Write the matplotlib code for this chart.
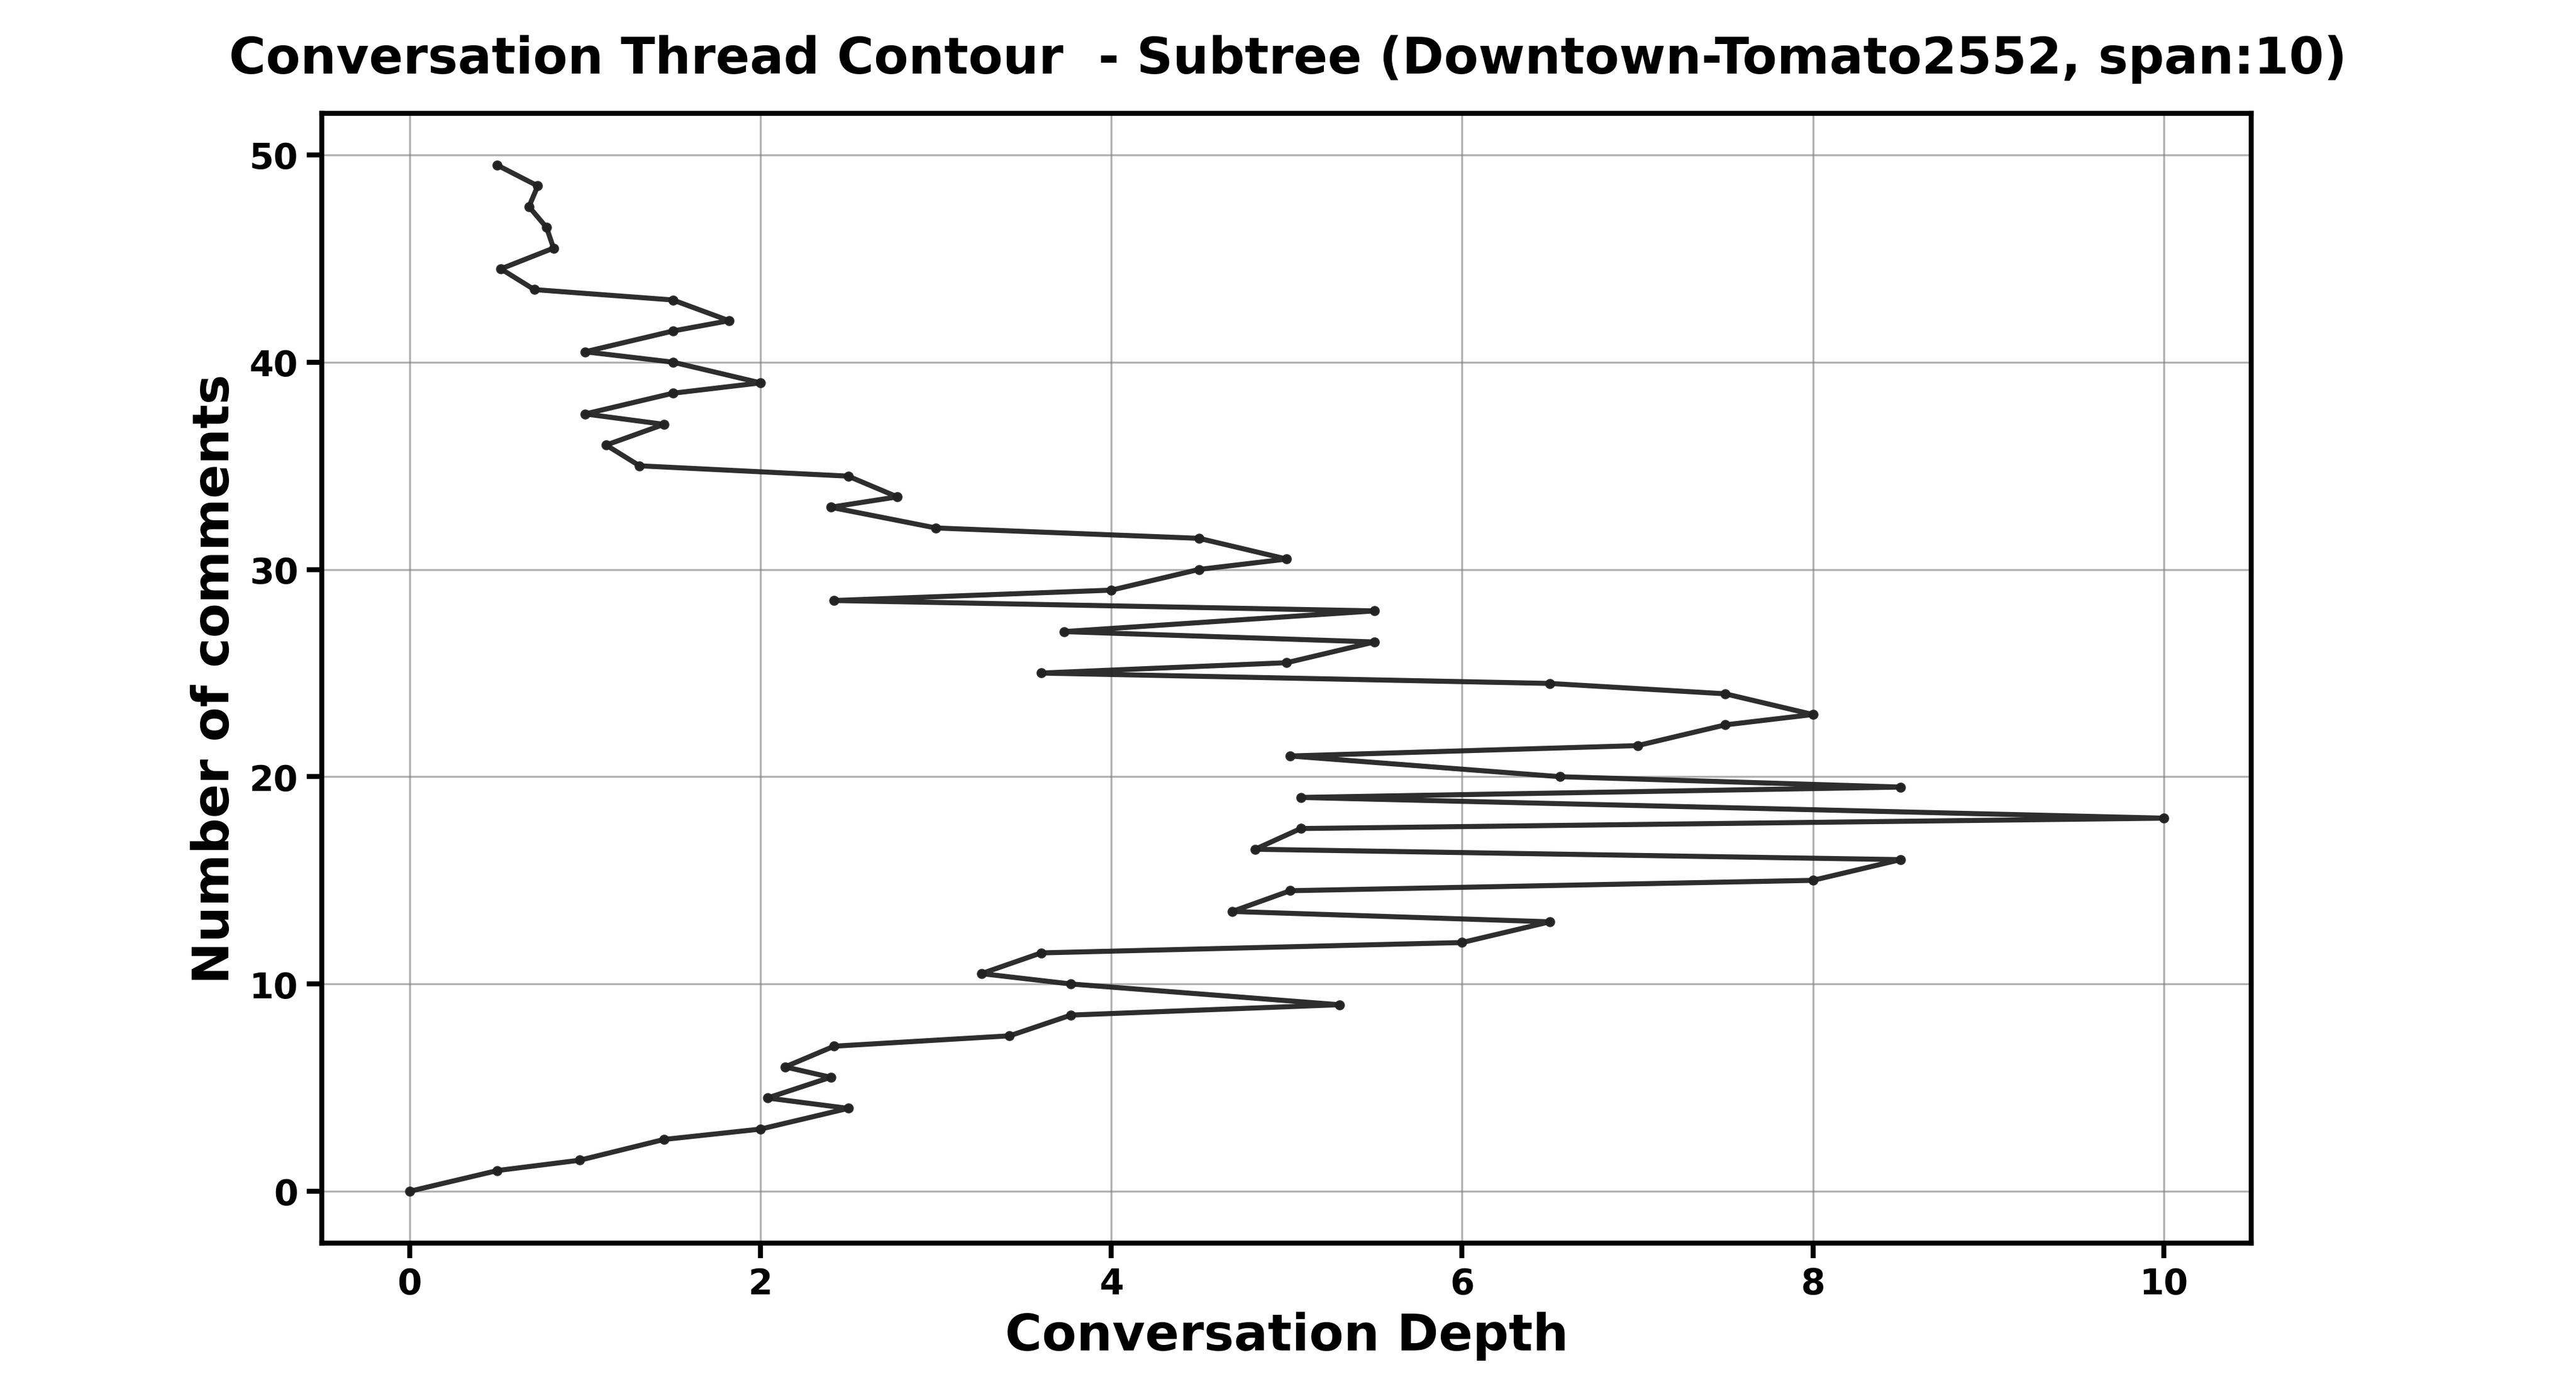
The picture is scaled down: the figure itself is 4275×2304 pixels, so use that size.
import matplotlib
matplotlib.use("Agg")
import matplotlib.pyplot as plt

depth = [0, 0.5, 0.97, 1.45, 2.0, 2.5, 2.04, 2.4, 2.14, 2.42, 3.42, 3.77, 5.3, 3.77, 3.26, 3.6,
         6.0, 6.5, 4.69, 5.02, 8.0, 8.5, 4.82, 5.08, 10, 5.08, 8.5, 6.56, 5.02, 7.0, 7.5, 8.0,
         7.5, 6.5, 3.6, 5.0, 5.5, 3.73, 5.5, 2.42, 4.0, 4.5, 5.0, 4.5, 3.0, 2.4, 2.78, 2.5,
         1.31, 1.12, 1.45, 1.0, 1.5, 2.0, 1.5, 1.0, 1.5, 1.82, 1.5, 0.71, 0.52, 0.82, 0.78,
         0.68, 0.73, 0.5]
comments = [0, 1, 1.5, 2.5, 3, 4, 4.5, 5.5, 6, 7, 7.5, 8.5, 9, 10, 10.5, 11.5,
            12, 13, 13.5, 14.5, 15, 16, 16.5, 17.5, 18, 19, 19.5, 20, 21, 21.5, 22.5, 23,
            24, 24.5, 25, 25.5, 26.5, 27, 28, 28.5, 29, 30, 30.5, 31.5, 32, 33, 33.5, 34.5,
            35, 36, 37, 37.5, 38.5, 39, 40, 40.5, 41.5, 42, 43, 43.5, 44.5, 45.5, 46.5,
            47.5, 48.5, 49.5]

fig = plt.figure(figsize=(14.25, 7.683), dpi=300)
ax = fig.add_axes([0.125, 0.105, 0.749, 0.813])
ax.plot(depth, comments, color="#222222", lw=2, marker="o", ms=3, alpha=0.95)
ax.set_xlim(-0.5, 10.5)
ax.set_ylim(-2.5, 52)
ax.set_xticks(range(0, 11, 2))
ax.set_yticks(range(0, 51, 10))
ax.grid(True, color="gray", alpha=0.6, lw=0.8)
for s in ax.spines.values():
    s.set_linewidth(2)
ax.tick_params(width=2, length=6, labelsize=14)
for l in ax.get_xticklabels() + ax.get_yticklabels():
    l.set_fontweight("bold")
ax.set_xlabel("Conversation Depth", fontsize=20, fontweight="bold")
ax.set_ylabel("Number of comments", fontsize=20, fontweight="bold")
fig.suptitle("Conversation Thread Contour  - Subtree (Downtown-Tomato2552, span:10)",
             fontsize=20, fontweight="bold", y=0.975)
fig.savefig("out.png", dpi=300)
